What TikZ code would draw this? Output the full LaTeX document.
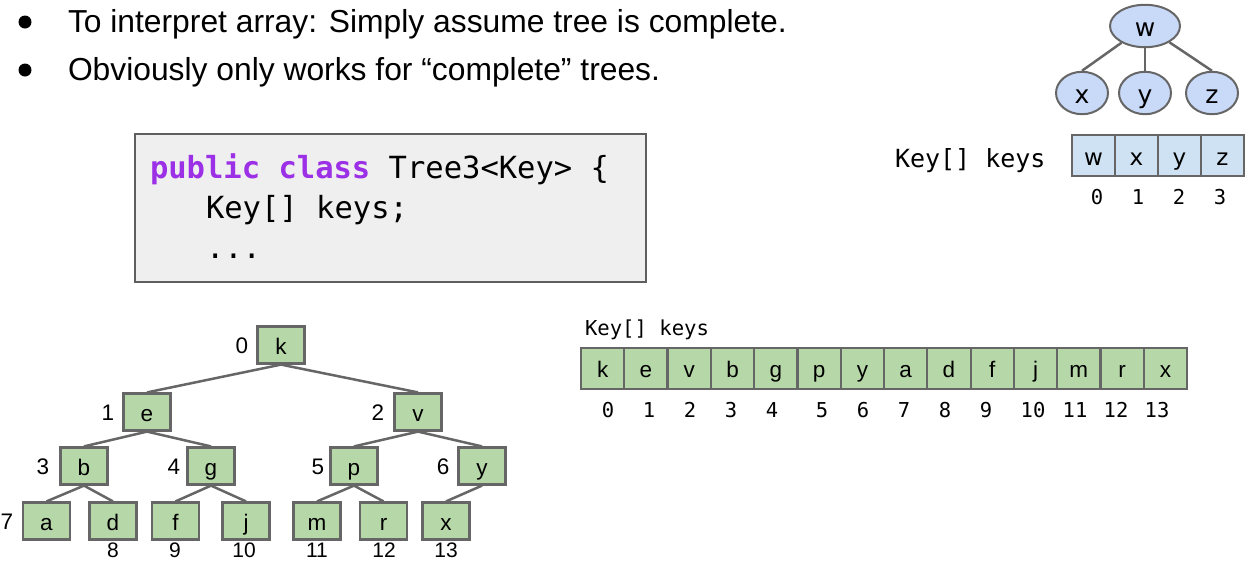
\documentclass[tikz,border=0pt]{standalone}
\usepackage{fontspec}
\setmainfont{Liberation Sans}
\newfontfamily\djv{DejaVu Sans}
\newfontfamily\mono{DejaVu Sans Mono}
\usetikzlibrary{shapes.geometric}

\newcommand{\setfs}[1]{\fontsize{#1}{#1}\selectfont}

\definecolor{linkgray}{HTML}{666666}
\definecolor{leafgreen}{HTML}{B6D7A8}
\definecolor{nodeblue}{HTML}{C9DAF8}
\definecolor{cellblue}{HTML}{CFE2F3}
\definecolor{codebg}{HTML}{EFEFEF}
\definecolor{codeborder}{HTML}{5F5F5F}
\definecolor{kwpurple}{RGB}{155,48,230}

\begin{document}
\begin{tikzpicture}[x=1pt,y=-1pt,
  txt/.style={inner sep=0pt, outer sep=0pt},
  bullettext/.style={txt, anchor=base west, font=\setfs{31.8}},
  codetext/.style={txt, anchor=base west, font=\mono\setfs{30.5}},
  monolabel/.style={txt, anchor=base west, font=\mono\setfs{25}},
  link/.style={draw=linkgray, line width=2.5pt},
  ell/.style={ellipse, draw=linkgray, line width=2pt, fill=nodeblue, inner sep=0pt,
    font=\djv\setfs{25}, text height=25pt, text depth=5pt},
  bluecell/.style={rectangle, draw=linkgray, line width=2pt, fill=cellblue, inner sep=0pt,
    minimum width=43, minimum height=41, font=\djv\setfs{23}, text height=23pt, text depth=4pt},
  treebox/.style={rectangle, draw=linkgray, line width=2.2pt, fill=leafgreen, inner sep=0pt,
    minimum width=47, minimum height=37, font=\setfs{22.5}, text height=22pt, text depth=3pt},
  greencell/.style={rectangle, draw=linkgray, line width=2.2pt, fill=leafgreen, inner sep=0pt,
    minimum width=43.3, minimum height=41, font=\setfs{22.5}, text height=20pt, text depth=3pt},
  treeidx/.style={txt, anchor=base, font=\setfs{22.5}},
  leafidx/.style={txt, anchor=base, font=\setfs{21}},
  arridx/.style={txt, anchor=base, font=\mono\setfs{20.5}},
]
\useasboundingbox (0,0) rectangle (1246,563);
\clip (0,0) rectangle (1246,563);

% bullet list
\fill (25,22) circle[radius=6.5pt];
\fill (25,70) circle[radius=6.5pt];
\node[bullettext] (line1) at (68,32) {To interpret array: Simply assume tree is complete.};
\node[bullettext] (line2) at (68,80) {Obviously only works for “complete” trees.};

% code listing
\node[rectangle, draw=codeborder, fill=codebg, line width=1.5pt, inner sep=0pt,
  minimum width=511, minimum height=148] (code) at (390.5,208) {};
\node[codetext] (code1) at (150,178) {\textbf{\color{kwpurple}public class} Tree3<Key> \{};
\node[codetext] (code2) at (206,218) {Key[] keys;};
\node[codetext] (code3) at (206,258) {...};

% small three-child tree
\node[ell, minimum width=70, minimum height=42] (w) at (1145,26) {w};
\node[ell, minimum width=52, minimum height=41] (x) at (1082,93) {x};
\node[ell, minimum width=52, minimum height=41] (y) at (1145,93) {y};
\node[ell, minimum width=52, minimum height=41] (z) at (1212,93) {z};
\draw[link] (w) -- (x.north);
\draw[link] (w.south) -- (y.north);
\draw[link] (w) -- (z.north);

% its array
\node[monolabel] (smalllabel) at (895,167) {Key[] keys};
\node[bluecell] (tw) at (1093.5,155.5) {w};
\node[bluecell] (tx) at (1136.5,155.5) {x};
\node[bluecell] (ty) at (1179.5,155.5) {y};
\node[bluecell] (tz) at (1222.5,155.5) {z};
\node[arridx] (ti0) at (1097,204) {0};
\node[arridx] (ti1) at (1138,204) {1};
\node[arridx] (ti2) at (1179,204) {2};
\node[arridx] (ti3) at (1220,204) {3};

% complete binary tree
\node[treebox] (nk) at (281,345) {k};
\node[treebox] (ne) at (147,412) {e};
\node[treebox] (nv) at (418,412) {v};
\node[treebox] (nb) at (84,466) {b};
\node[treebox] (ng) at (211,466) {g};
\node[treebox] (np) at (354,466) {p};
\node[treebox] (ny) at (482,466) {y};
\node[treebox] (na) at (46.5,521) {a};
\node[treebox] (nd) at (113,521) {d};
\node[treebox] (nf) at (175.5,521) {f};
\node[treebox] (nj) at (246,521) {j};
\node[treebox] (nm) at (317,521) {m};
\node[treebox] (nr) at (383.5,521) {r};
\node[treebox] (nx) at (446,521) {x};

\draw[link] (nk.south) -- (ne.north);
\draw[link] (nk.south) -- (nv.north);
\draw[link] (ne.south) -- (nb.north);
\draw[link] (ne.south) -- (ng.north);
\draw[link] (nv.south) -- (np.north);
\draw[link] (nv.south) -- (ny.north);
\draw[link] (nb.south) -- (na.north);
\draw[link] (nb.south) -- (nd.north);
\draw[link] (ng.south) -- (nf.north);
\draw[link] (ng.south) -- (nj.north);
\draw[link] (np.south) -- (nm.north);
\draw[link] (np.south) -- (nr.north);
\draw[link] (ny.south) -- (nx.north);

% tree indices
\node[treeidx] (i0) at (242,353.5) {0};
\node[treeidx] (i1) at (108,420) {1};
\node[treeidx] (i2) at (378,420) {2};
\node[treeidx] (i3) at (43,474) {3};
\node[treeidx] (i4) at (174,474) {4};
\node[treeidx] (i5) at (318,474) {5};
\node[treeidx] (i6) at (443,474) {6};
\node[treeidx] (i7) at (7,529) {7};
\node[leafidx] (i8) at (113,557) {8};
\node[leafidx] (i9) at (175,557) {9};
\node[leafidx] (i10) at (244,557) {10};
\node[leafidx] (i11) at (317,557) {11};
\node[leafidx] (i12) at (384,557) {12};
\node[leafidx] (i13) at (446,557) {13};

% the array form of the tree
\node[monolabel, font=\mono\setfs{20.6}] (biglabel) at (585,335) {Key[] keys};
\foreach \ch [count=\i from 0] in {k,e,v,b,g,p,y,a,d,f,j,m,r,x} {
  \node[greencell] (kc\i) at ({581+43.29*(\i+0.5)},368.5) {\ch};
}
\foreach \xx [count=\i from 0] in {608,649,690,731,772,822,863,904,945,986,1033,1075,1116,1157} {
  \node[arridx] (ki\i) at (\xx,417) {\i};
}
\end{tikzpicture}
\end{document}
